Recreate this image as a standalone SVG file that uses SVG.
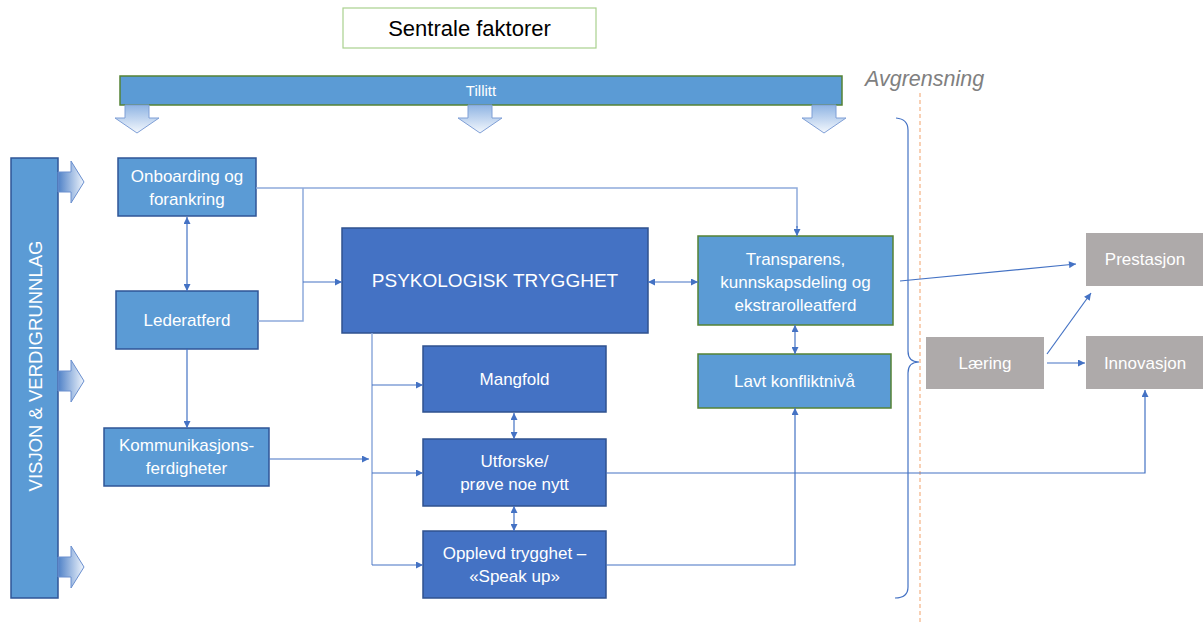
<svg xmlns="http://www.w3.org/2000/svg" width="1203" height="625" viewBox="0 0 1203 625">
<defs>
<linearGradient id="gDown" x1="0" y1="0" x2="0" y2="1">
<stop offset="0" stop-color="#8fb4e3"/>
<stop offset="1" stop-color="#f4f8fd"/>
</linearGradient>
<linearGradient id="gRight" x1="0" y1="0" x2="1" y2="0">
<stop offset="0" stop-color="#4f81c7"/>
<stop offset="1" stop-color="#eef4fc"/>
</linearGradient>
<marker id="ah" viewBox="0 0 10 10" refX="10" refY="5" markerWidth="8" markerHeight="7" markerUnits="userSpaceOnUse" orient="auto-start-reverse">
<path d="M0,0 L10,5 L0,10 Z" fill="#4472c4"/>
</marker>
</defs>
<style>
.t{font-family:"Liberation Sans",Arial,sans-serif;fill:#fff;text-anchor:middle}
.lb{fill:#5b9bd5;stroke:#2f5597;stroke-width:1.5}
.lg{fill:#5b9bd5;stroke:#548235;stroke-width:1.5}
.db{fill:#4472c4;stroke:#2f528f;stroke-width:1.5}
.gr{fill:#aeaaaa}
.c{fill:none;stroke:#4472c4;stroke-width:1.2}
.cl{fill:none;stroke:#8eaadb;stroke-width:1.5}
.ga{fill:url(#gDown);stroke:#7f9fd6;stroke-width:1}
.gra{fill:url(#gRight);stroke:#6a8fcf;stroke-width:1}
</style>
<rect width="1203" height="625" fill="#fff"/>

<g id="sentrale">
<rect x="343" y="8" width="253" height="40" fill="#fff" stroke="#a9d18e" stroke-width="1.2"/>
<text x="469.5" y="36" class="t" style="fill:#000;font-size:22px">Sentrale faktorer</text>
</g>

<g id="tillitt">
<rect x="120" y="76" width="722" height="29" class="lg"/>
<text x="481" y="96" class="t" font-size="15">Tillitt</text>
</g>

<g id="down-arrows">
<path class="ga" d="M125,105 H149 V118 H159 L137,133 L115,118 H125 Z"/>
<path class="ga" d="M468,105 H492 V118 H502 L480,133 L458,118 H468 Z"/>
<path class="ga" d="M812,105 H836 V118 H846 L824,133 L802,118 H812 Z"/>
</g>

<g id="visjon">
<rect x="11" y="158" width="47" height="440" class="lb"/>
<text transform="translate(42,366) rotate(-90)" class="t" font-size="18.5">VISJON &amp; VERDIGRUNNLAG</text>
</g>

<g id="right-arrows">
<path class="gra" d="M58,172 H71 V161 L84,182 L71,203 V192 H58 Z"/>
<path class="gra" d="M58,371 H71 V360 L84,381 L71,402 V391 H58 Z"/>
<path class="gra" d="M58,557 H71 V546 L84,567 L71,588 V577 H58 Z"/>
</g>

<g id="avgrensning">
<text x="865" y="86" style="font-family:'Liberation Sans',Arial,sans-serif;font-style:italic;font-size:21.5px;fill:#808080">Avgrensning</text>
<line x1="920" y1="93" x2="920" y2="625" stroke="#f4b183" stroke-width="1.2" stroke-dasharray="4,3"/>
<path class="c" d="M896,118 Q908,119 908,130 V351 Q908,362 919,362 Q908,362 908,373 V587 Q908,598 895,598"/>
</g>

<g id="onboarding">
<rect x="118" y="158" width="138" height="58" class="lb"/>
<text x="187" y="182" class="t" font-size="17">Onboarding og</text>
<text x="187" y="205" class="t" font-size="17">forankring</text>
</g>

<g id="lederatferd">
<rect x="116" y="291" width="142" height="58" class="lb"/>
<text x="187" y="326" class="t" font-size="17">Lederatferd</text>
</g>

<g id="kommunikasjon">
<rect x="104" y="428" width="165" height="58" class="lb"/>
<text x="186.5" y="451" class="t" font-size="17">Kommunikasjons-</text>
<text x="186.5" y="474" class="t" font-size="17">ferdigheter</text>
</g>

<g id="psykologisk">
<rect x="342" y="228" width="306" height="105" class="db"/>
<text x="495" y="287" class="t" font-size="19">PSYKOLOGISK TRYGGHET</text>
</g>

<g id="mangfold">
<rect x="423" y="346" width="183" height="66" class="db"/>
<text x="514.5" y="385" class="t" font-size="17">Mangfold</text>
</g>

<g id="utforske">
<rect x="423" y="439" width="183" height="67" class="db"/>
<text x="514.5" y="467" class="t" font-size="17">Utforske/</text>
<text x="514.5" y="490" class="t" font-size="17">prøve noe nytt</text>
</g>

<g id="opplevd">
<rect x="423" y="531" width="183" height="67" class="db"/>
<text x="514.5" y="559" class="t" font-size="17">Opplevd trygghet –</text>
<text x="514.5" y="582" class="t" font-size="17">«Speak up»</text>
</g>

<g id="transparens">
<rect x="698" y="236" width="195" height="89" class="lg"/>
<text x="795.5" y="265" class="t" font-size="17">Transparens,</text>
<text x="795.5" y="288" class="t" font-size="17">kunnskapsdeling og</text>
<text x="795.5" y="311" class="t" font-size="17">ekstrarolleatferd</text>
</g>

<g id="lavt">
<rect x="698" y="354" width="193" height="54" class="lg"/>
<text x="794.5" y="387" class="t" font-size="17">Lavt konfliktnivå</text>
</g>

<g id="laering">
<rect x="926" y="337" width="118" height="52" class="gr"/>
<text x="985" y="369" class="t" font-size="17">Læring</text>
</g>

<g id="prestasjon">
<rect x="1086" y="233" width="117" height="53" class="gr"/>
<text x="1145" y="265" class="t" font-size="17">Prestasjon</text>
</g>

<g id="innovasjon">
<rect x="1086" y="336" width="117" height="53" class="gr"/>
<text x="1145" y="369" class="t" font-size="17">Innovasjon</text>
</g>

<g id="connectors">
<polyline class="cl" points="256,188 797,188 797,228"/>
<path class="c" d="M797,226 V236" marker-end="url(#ah)"/>
<polyline class="cl" points="258,321 303,321 303,188"/>
<line class="c" x1="303" y1="282" x2="342" y2="282" marker-end="url(#ah)"/>
<line class="c" x1="187" y1="217" x2="187" y2="291" marker-start="url(#ah)" marker-end="url(#ah)"/>
<line class="c" x1="187" y1="349" x2="187" y2="428" marker-end="url(#ah)"/>
<line class="c" x1="269" y1="459" x2="369" y2="459" marker-end="url(#ah)"/>
<polyline class="cl" points="372,333 372,565"/>
<line class="c" x1="372" y1="385" x2="423" y2="385" marker-end="url(#ah)"/>
<line class="c" x1="372" y1="473" x2="423" y2="473" marker-end="url(#ah)"/>
<line class="c" x1="372" y1="565" x2="423" y2="565" marker-end="url(#ah)"/>
<line class="c" x1="648" y1="282" x2="698" y2="282" marker-start="url(#ah)" marker-end="url(#ah)"/>
<line class="c" x1="795" y1="325" x2="795" y2="354" marker-start="url(#ah)" marker-end="url(#ah)"/>
<line class="c" x1="514" y1="413" x2="514" y2="439" marker-start="url(#ah)" marker-end="url(#ah)"/>
<line class="c" x1="514" y1="506" x2="514" y2="531" marker-start="url(#ah)" marker-end="url(#ah)"/>
<polyline class="c" points="606,473 1145,473 1145,390" marker-end="url(#ah)"/>
<polyline class="c" points="606,565 795,565 795,408" marker-end="url(#ah)"/>
<line class="c" x1="900" y1="281" x2="1076" y2="264" marker-end="url(#ah)"/>
<line class="c" x1="1047" y1="354" x2="1091" y2="293" marker-end="url(#ah)"/>
<line class="c" x1="1047" y1="363" x2="1085" y2="363" marker-end="url(#ah)"/>
</g>
</svg>
